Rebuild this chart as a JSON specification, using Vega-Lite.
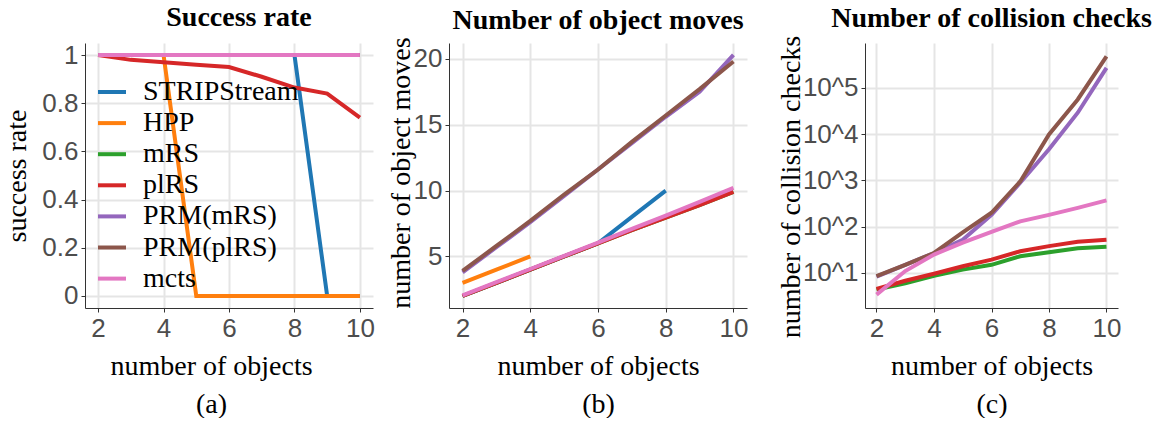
{
  "$schema": "https://vega.github.io/schema/vega-lite/v6.json",
  "padding": {"left": 3, "top": 4, "right": 0, "bottom": 0},
  "background": "white",
  "datasets": {
    "sr": [
      {"method": "STRIPStream", "n": 2, "v": 1}, {"method": "STRIPStream", "n": 3, "v": 1}, {"method": "STRIPStream", "n": 4, "v": 1}, {"method": "STRIPStream", "n": 5, "v": 1}, {"method": "STRIPStream", "n": 6, "v": 1}, {"method": "STRIPStream", "n": 7, "v": 1}, {"method": "STRIPStream", "n": 8, "v": 1}, {"method": "STRIPStream", "n": 9, "v": 0}, {"method": "STRIPStream", "n": 10, "v": 0},
      {"method": "HPP", "n": 2, "v": 1}, {"method": "HPP", "n": 3, "v": 1}, {"method": "HPP", "n": 4, "v": 1}, {"method": "HPP", "n": 5, "v": 0}, {"method": "HPP", "n": 6, "v": 0}, {"method": "HPP", "n": 7, "v": 0}, {"method": "HPP", "n": 8, "v": 0}, {"method": "HPP", "n": 9, "v": 0}, {"method": "HPP", "n": 10, "v": 0},
      {"method": "mRS", "n": 2, "v": 1}, {"method": "mRS", "n": 3, "v": 1}, {"method": "mRS", "n": 4, "v": 1}, {"method": "mRS", "n": 5, "v": 1}, {"method": "mRS", "n": 6, "v": 1}, {"method": "mRS", "n": 7, "v": 1}, {"method": "mRS", "n": 8, "v": 1}, {"method": "mRS", "n": 9, "v": 1}, {"method": "mRS", "n": 10, "v": 1},
      {"method": "plRS", "n": 2, "v": 1}, {"method": "plRS", "n": 3, "v": 0.98}, {"method": "plRS", "n": 4, "v": 0.97}, {"method": "plRS", "n": 5, "v": 0.96}, {"method": "plRS", "n": 6, "v": 0.95}, {"method": "plRS", "n": 7, "v": 0.91}, {"method": "plRS", "n": 8, "v": 0.865}, {"method": "plRS", "n": 9, "v": 0.84}, {"method": "plRS", "n": 10, "v": 0.74},
      {"method": "PRM(mRS)", "n": 2, "v": 1}, {"method": "PRM(mRS)", "n": 3, "v": 1}, {"method": "PRM(mRS)", "n": 4, "v": 1}, {"method": "PRM(mRS)", "n": 5, "v": 1}, {"method": "PRM(mRS)", "n": 6, "v": 1}, {"method": "PRM(mRS)", "n": 7, "v": 1}, {"method": "PRM(mRS)", "n": 8, "v": 1}, {"method": "PRM(mRS)", "n": 9, "v": 1}, {"method": "PRM(mRS)", "n": 10, "v": 1},
      {"method": "PRM(plRS)", "n": 2, "v": 1}, {"method": "PRM(plRS)", "n": 3, "v": 1}, {"method": "PRM(plRS)", "n": 4, "v": 1}, {"method": "PRM(plRS)", "n": 5, "v": 1}, {"method": "PRM(plRS)", "n": 6, "v": 1}, {"method": "PRM(plRS)", "n": 7, "v": 1}, {"method": "PRM(plRS)", "n": 8, "v": 1}, {"method": "PRM(plRS)", "n": 9, "v": 1}, {"method": "PRM(plRS)", "n": 10, "v": 1},
      {"method": "mcts", "n": 2, "v": 1}, {"method": "mcts", "n": 3, "v": 1}, {"method": "mcts", "n": 4, "v": 1}, {"method": "mcts", "n": 5, "v": 1}, {"method": "mcts", "n": 6, "v": 1}, {"method": "mcts", "n": 7, "v": 1}, {"method": "mcts", "n": 8, "v": 1}, {"method": "mcts", "n": 9, "v": 1}, {"method": "mcts", "n": 10, "v": 1}
    ],
    "moves": [
      {"method": "STRIPStream", "n": 2, "v": 2}, {"method": "STRIPStream", "n": 3, "v": 3}, {"method": "STRIPStream", "n": 4, "v": 4}, {"method": "STRIPStream", "n": 5, "v": 5}, {"method": "STRIPStream", "n": 6, "v": 6}, {"method": "STRIPStream", "n": 7, "v": 8}, {"method": "STRIPStream", "n": 8, "v": 10},
      {"method": "HPP", "n": 2, "v": 3}, {"method": "HPP", "n": 3, "v": 4}, {"method": "HPP", "n": 4, "v": 5},
      {"method": "mRS", "n": 2, "v": 2}, {"method": "mRS", "n": 3, "v": 3}, {"method": "mRS", "n": 4, "v": 4}, {"method": "mRS", "n": 5, "v": 5}, {"method": "mRS", "n": 6, "v": 6}, {"method": "mRS", "n": 7, "v": 7}, {"method": "mRS", "n": 8, "v": 7.95}, {"method": "mRS", "n": 9, "v": 8.9}, {"method": "mRS", "n": 10, "v": 9.9},
      {"method": "plRS", "n": 2, "v": 2}, {"method": "plRS", "n": 3, "v": 3}, {"method": "plRS", "n": 4, "v": 4}, {"method": "plRS", "n": 5, "v": 5}, {"method": "plRS", "n": 6, "v": 6}, {"method": "plRS", "n": 7, "v": 7}, {"method": "plRS", "n": 8, "v": 7.95}, {"method": "plRS", "n": 9, "v": 8.9}, {"method": "plRS", "n": 10, "v": 9.9},
      {"method": "PRM(mRS)", "n": 2, "v": 3.8}, {"method": "PRM(mRS)", "n": 3, "v": 5.7}, {"method": "PRM(mRS)", "n": 4, "v": 7.6}, {"method": "PRM(mRS)", "n": 5, "v": 9.6}, {"method": "PRM(mRS)", "n": 6, "v": 11.6}, {"method": "PRM(mRS)", "n": 7, "v": 13.6}, {"method": "PRM(mRS)", "n": 8, "v": 15.6}, {"method": "PRM(mRS)", "n": 9, "v": 17.5}, {"method": "PRM(mRS)", "n": 10, "v": 20.3},
      {"method": "PRM(plRS)", "n": 2, "v": 3.9}, {"method": "PRM(plRS)", "n": 3, "v": 5.8}, {"method": "PRM(plRS)", "n": 4, "v": 7.7}, {"method": "PRM(plRS)", "n": 5, "v": 9.7}, {"method": "PRM(plRS)", "n": 6, "v": 11.6}, {"method": "PRM(plRS)", "n": 7, "v": 13.7}, {"method": "PRM(plRS)", "n": 8, "v": 15.7}, {"method": "PRM(plRS)", "n": 9, "v": 17.7}, {"method": "PRM(plRS)", "n": 10, "v": 19.8},
      {"method": "mcts", "n": 2, "v": 2.05}, {"method": "mcts", "n": 3, "v": 3.05}, {"method": "mcts", "n": 4, "v": 4.05}, {"method": "mcts", "n": 5, "v": 5.05}, {"method": "mcts", "n": 6, "v": 6.05}, {"method": "mcts", "n": 7, "v": 7.1}, {"method": "mcts", "n": 8, "v": 8.1}, {"method": "mcts", "n": 9, "v": 9.15}, {"method": "mcts", "n": 10, "v": 10.2}
    ],
    "checks": [
      {"method": "mRS", "n": 2, "v": 4.4}, {"method": "mRS", "n": 3, "v": 6.0}, {"method": "mRS", "n": 4, "v": 8.7}, {"method": "mRS", "n": 5, "v": 11.8}, {"method": "mRS", "n": 6, "v": 15}, {"method": "mRS", "n": 7, "v": 23}, {"method": "mRS", "n": 8, "v": 28}, {"method": "mRS", "n": 9, "v": 34}, {"method": "mRS", "n": 10, "v": 37},
      {"method": "plRS", "n": 2, "v": 4.5}, {"method": "plRS", "n": 3, "v": 6.8}, {"method": "plRS", "n": 4, "v": 9.6}, {"method": "plRS", "n": 5, "v": 14}, {"method": "plRS", "n": 6, "v": 19.4}, {"method": "plRS", "n": 7, "v": 29.4}, {"method": "plRS", "n": 8, "v": 38}, {"method": "plRS", "n": 9, "v": 47}, {"method": "plRS", "n": 10, "v": 52},
      {"method": "PRM(mRS)", "n": 2, "v": 8.3}, {"method": "PRM(mRS)", "n": 3, "v": 15}, {"method": "PRM(mRS)", "n": 4, "v": 27}, {"method": "PRM(mRS)", "n": 5, "v": 52}, {"method": "PRM(mRS)", "n": 6, "v": 180}, {"method": "PRM(mRS)", "n": 7, "v": 890}, {"method": "PRM(mRS)", "n": 8, "v": 4700}, {"method": "PRM(mRS)", "n": 9, "v": 29000}, {"method": "PRM(mRS)", "n": 10, "v": 270000},
      {"method": "PRM(plRS)", "n": 2, "v": 8.5}, {"method": "PRM(plRS)", "n": 3, "v": 15}, {"method": "PRM(plRS)", "n": 4, "v": 27}, {"method": "PRM(plRS)", "n": 5, "v": 75}, {"method": "PRM(plRS)", "n": 6, "v": 200}, {"method": "PRM(plRS)", "n": 7, "v": 950}, {"method": "PRM(plRS)", "n": 8, "v": 9800}, {"method": "PRM(plRS)", "n": 9, "v": 56000}, {"method": "PRM(plRS)", "n": 10, "v": 480000},
      {"method": "mcts", "n": 2, "v": 3.4}, {"method": "mcts", "n": 3, "v": 11}, {"method": "mcts", "n": 4, "v": 25}, {"method": "mcts", "n": 5, "v": 45}, {"method": "mcts", "n": 6, "v": 77}, {"method": "mcts", "n": 7, "v": 130}, {"method": "mcts", "n": 8, "v": 180}, {"method": "mcts", "n": 9, "v": 255}, {"method": "mcts", "n": 10, "v": 370}
    ]
  },
  "config": {
    "view": {"stroke": null},
    "axis": {
      "domainColor": "#333333",
      "domainWidth": 1,
      "tickColor": "#333333",
      "tickSize": 4,
      "tickWidth": 1,
      "gridColor": "#e5e5e5",
      "gridWidth": 2,
      "labelFont": "Liberation Sans",
      "labelFontSize": 26,
      "labelColor": "#4d4d4d",
      "labelPadding": 3,
      "titleFont": "Liberation Serif",
      "titleFontSize": 28,
      "titleFontWeight": "normal",
      "titleColor": "black"
    },
    "title": {"font": "Liberation Serif", "fontSize": 28, "fontWeight": "bold", "color": "black", "offset": 8},
    "line": {"strokeWidth": 4}
  },
  "resolve": {"scale": {"color": "independent"}},
  "spacing": 12,
  "hconcat": [
    {
      "title": {"text": "Success rate", "dx": 10, "offset": 10},
      "width": 288,
      "height": 265,
      "data": {"name": "sr"},
      "mark": {"type": "line", "strokeWidth": 4},
      "encoding": {
        "x": {"field": "n", "type": "quantitative", "scale": {"domain": [1.6, 10.4], "nice": false, "zero": false},
          "axis": {"values": [2, 4, 6, 8, 10], "title": ["number of objects", "(a)"], "titleLineHeight": 38, "titlePadding": 11, "titleX": 126}},
        "y": {"field": "v", "type": "quantitative", "scale": {"domain": [-0.05, 1.05], "nice": false, "zero": false},
          "axis": {"values": [0, 0.2, 0.4, 0.6, 0.8, 1], "format": ".1~f", "title": "success rate", "titlePadding": 10}},
        "color": {"field": "method", "type": "nominal",
          "scale": {"domain": ["STRIPStream", "HPP", "mRS", "plRS", "PRM(mRS)", "PRM(plRS)", "mcts"], "range": ["#1f77b4", "#ff7f0e", "#2ca02c", "#d62728", "#9467bd", "#8c564b", "#e377c2"]},
          "sort": ["STRIPStream", "HPP", "mRS", "plRS", "PRM(mRS)", "PRM(plRS)", "mcts"],
          "legend": {"orient": "none", "legendX": 11, "legendY": 33, "title": null, "padding": 0,
            "labelFont": "Liberation Serif", "labelFontSize": 28, "labelColor": "black", "labelOffset": 15,
            "symbolType": "stroke", "symbolStrokeWidth": 5, "symbolSize": 784, "rowPadding": 1.1, "labelLimit": 400}}
      }
    },
    {
      "spacing": 29,
      "hconcat": [
        {
          "title": {"text": "Number of object moves", "offset": 2},
          "width": 298,
          "height": 265,
          "data": {"name": "moves"},
          "mark": {"type": "line", "strokeWidth": 4},
          "encoding": {
            "x": {"field": "n", "type": "quantitative", "scale": {"domain": [1.6, 10.4], "nice": false, "zero": false},
              "axis": {"values": [2, 4, 6, 8, 10], "title": ["number of objects", "(b)"], "titleLineHeight": 38, "titlePadding": 11}},
            "y": {"field": "v", "type": "quantitative", "scale": {"domain": [1.09, 21.2], "nice": false, "zero": false},
              "axis": {"values": [5, 10, 15, 20], "title": "number of object moves", "titlePadding": -2, "titleY": 129.5}},
            "color": {"field": "method", "type": "nominal",
              "scale": {"domain": ["STRIPStream", "HPP", "mRS", "plRS", "PRM(mRS)", "PRM(plRS)", "mcts"], "range": ["#1f77b4", "#ff7f0e", "#2ca02c", "#d62728", "#9467bd", "#8c564b", "#e377c2"]},
              "sort": ["STRIPStream", "HPP", "mRS", "plRS", "PRM(mRS)", "PRM(plRS)", "mcts"],
              "legend": null}
          }
        },
        {
          "title": {"text": "Number of collision checks", "offset": 2},
          "width": 253,
          "height": 265,
          "data": {"name": "checks"},
          "mark": {"type": "line", "strokeWidth": 4},
          "encoding": {
            "x": {"field": "n", "type": "quantitative", "scale": {"domain": [1.6, 10.4], "nice": false, "zero": false},
              "axis": {"values": [2, 4, 6, 8, 10], "title": ["number of objects", "(c)"], "titleLineHeight": 38, "titlePadding": 11}},
            "y": {"field": "v", "type": "quantitative", "scale": {"type": "log", "domain": [1.75, 930000], "nice": false},
              "axis": {"values": [10, 100, 1000, 10000, 100000], "labelExpr": "'10^' + round(log(datum.value) / LN10)", "title": "number of collision checks", "titlePadding": -3, "titleY": 143.5}},
            "color": {"field": "method", "type": "nominal",
              "scale": {"domain": ["STRIPStream", "HPP", "mRS", "plRS", "PRM(mRS)", "PRM(plRS)", "mcts"], "range": ["#1f77b4", "#ff7f0e", "#2ca02c", "#d62728", "#9467bd", "#8c564b", "#e377c2"]},
              "sort": ["STRIPStream", "HPP", "mRS", "plRS", "PRM(mRS)", "PRM(plRS)", "mcts"],
              "legend": null}
          }
        }
      ]
    }
  ]
}
